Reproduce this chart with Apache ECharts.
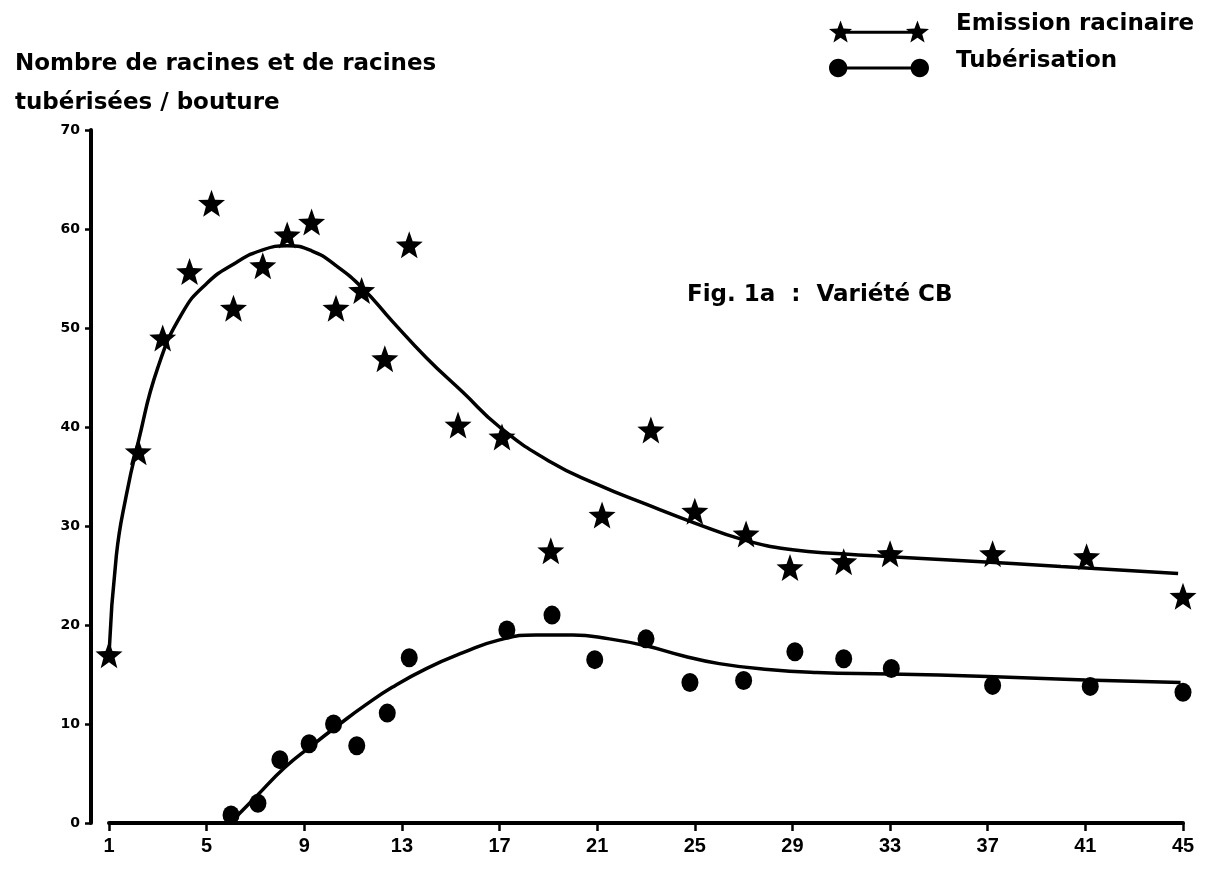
<!DOCTYPE html>
<html>
<head>
<meta charset="utf-8">
<script src="https://cdn.jsdelivr.net/npm/echarts@6/dist/echarts.min.js"></script>
<style>
html,body{margin:0;padding:0;background:#fff;}
#chart{width:1207px;height:872px;}
</style>
</head>
<body>
<div id="chart"></div>
<script>
// ---- Data ----
const xTicks = [1, 5, 9, 13, 17, 21, 25, 29, 33, 37, 41, 45];
const yTicks = [0, 10, 20, 30, 40, 50, 60, 70];

// Emission racinaire : observed points (stars)
const emissionDays   = [1, 2.2, 3.2, 4.3, 5.2, 6.1, 7.3, 8.3, 9.3, 10.3, 11.35, 12.3, 13.3, 15.3, 17.1, 19.1, 21.2, 23.2, 25.0, 27.1, 28.9, 31.1, 33.0, 37.2, 41.05, 45.0];
const emissionValues = [17.0, 37.5, 49.0, 55.7, 62.6, 52.0, 56.3, 59.4, 60.7, 52.0, 53.8, 46.9, 58.4, 40.2, 39.0, 27.5, 31.1, 39.7, 31.5, 29.2, 25.8, 26.4, 27.2, 27.2, 26.9, 22.9];

// Emission racinaire : hand-drawn fitted curve
const emissionCurveDays   = [1, 1.3, 1.7, 2.2, 3.0, 4.0, 5.0, 6.2, 7.3, 8.3, 9.3, 10.3, 11.4, 12.6, 14.0, 15.5, 17.0, 19.0, 21.0, 23.0, 25.0, 27.0, 29.0, 31.0, 33.0, 36.0, 40.0, 44.8];
const emissionCurveValues = [17.0, 27.0, 33.0, 38.5, 46.0, 51.5, 54.5, 56.6, 57.9, 58.3, 57.8, 56.3, 54.0, 50.7, 47.0, 43.5, 40.0, 36.6, 34.2, 32.2, 30.3, 28.6, 27.6, 27.2, 26.9, 26.5, 25.9, 25.2];

// Tubérisation : observed points (dots)
const tuberDays   = [6.0, 7.1, 8.0, 9.2, 10.2, 11.15, 12.4, 13.3, 17.3, 19.15, 20.9, 23.0, 24.8, 27.0, 29.1, 31.1, 33.05, 37.2, 41.2, 45.0];
const tuberValues = [0.8, 2.0, 6.4, 8.0, 10.0, 7.8, 11.1, 16.7, 19.5, 21.0, 16.5, 18.6, 14.2, 14.4, 17.3, 16.6, 15.6, 13.9, 13.8, 13.2];

// Tubérisation : hand-drawn fitted curve
const tuberCurveDays   = [6.0, 7.0, 8.2, 9.3, 10.4, 11.5, 12.6, 14.0, 15.5, 17.0, 18.5, 20.0, 21.5, 23.0, 24.5, 26.0, 28.0, 30.0, 33.0, 37.0, 41.0, 44.9];
const tuberCurveValues = [0.1, 2.6, 5.6, 7.8, 9.9, 11.9, 13.7, 15.6, 17.2, 18.5, 19.0, 19.0, 18.6, 17.9, 16.9, 16.1, 15.5, 15.2, 15.05, 14.8, 14.45, 14.2];

const yAxisTitle = 'Nombre de racines et de racines\ntubérisées / bouture';
const figLabel = 'Fig. 1a  :  Variété CB';
const seriesNames = ['Emission racinaire', 'Tubérisation'];

// ---- Build ----
const zip = (xs, ys) => xs.map((x, i) => [x, ys[i]]);

const STAR = 'path://M12 0L14.94 7.95L23.41 8.29L16.76 13.55L19.05 21.71L12 17L4.95 21.71L7.24 13.55L0.59 8.29L9.06 7.95Z';
const STAR_LEGEND = 'path://M12 0L14.94 7.95L23.41 8.29L16.76 13.55L19.05 21.71L12 17L4.95 21.71L7.24 13.55L0.59 8.29L9.06 7.95Z' +
  'M88 0L90.94 7.95L99.41 8.29L92.76 13.55L95.05 21.71L88 17L80.95 21.71L83.24 13.55L76.59 8.29L85.06 7.95Z' +
  'M12 10.2L88 10.2L88 13.2L12 13.2Z';
const DOT_LEGEND = 'path://M1 11C1 6.03 5.03 2 10 2C14.97 2 19 6.03 19 11C19 15.97 14.97 20 10 20C5.03 20 1 15.97 1 11Z' +
  'M81 11C81 6.03 85.03 2 90 2C94.97 2 99 6.03 99 11C99 15.97 94.97 20 90 20C85.03 20 81 15.97 81 11Z' +
  'M10 9.5L90 9.5L90 12.5L10 12.5Z';

const INK = '#000000';
const BOLD_FONT = 'DejaVu Sans, Verdana, sans-serif';
const chart = echarts.init(document.getElementById('chart'), null, {renderer: 'canvas'});

chart.setOption({
  backgroundColor: '#ffffff',
  animation: false,
  title: [
    {
      text: yAxisTitle,
      left: 10, top: 40,
      textStyle: {fontFamily: BOLD_FONT, fontWeight: 'bold', fontSize: 23, lineHeight: 39, color: INK}
    },
    {
      text: figLabel,
      left: 682, top: 279,
      textStyle: {fontFamily: BOLD_FONT, fontWeight: 'bold', fontSize: 23, color: INK}
    }
  ],
  legend: {
    orient: 'vertical',
    left: 824, top: 8,
    itemWidth: 100, itemHeight: 24,
    itemGap: 1,
    selectedMode: false,
    data: [
      {name: seriesNames[0], icon: STAR_LEGEND},
      {name: seriesNames[1], icon: DOT_LEGEND}
    ],
    formatter: name => '{t|' + name + '}\n{s| }',
    textStyle: {
      padding: [0, 0, 0, 22],
      rich: {
        t: {fontFamily: BOLD_FONT, fontWeight: 'bold', fontSize: 23, lineHeight: 24, color: INK},
        s: {fontSize: 10, lineHeight: 14}
      }
    },
    itemStyle: {color: INK, opacity: 1}
  },
  grid: {left: 109, right: 24, top: 130, bottom: 49},
  xAxis: {
    type: 'value',
    min: 1, max: 45,
    splitLine: {show: false},
    axisLine: {show: true, lineStyle: {color: INK, width: 4}},
    axisTick: {show: true, customValues: xTicks, length: 8, lineStyle: {color: INK, width: 2.5}},
    axisLabel: {
      customValues: xTicks, margin: 13,
      fontFamily: 'Liberation Sans Narrow, Liberation Sans, Arial, sans-serif',
      fontWeight: 'bold', fontSize: 20, color: INK
    }
  },
  yAxis: {
    type: 'value',
    min: 0, max: 70, interval: 10,
    offset: 18,
    splitLine: {show: false},
    axisLine: {show: true, lineStyle: {color: INK, width: 4}},
    axisTick: {show: true, length: 6, lineStyle: {color: INK, width: 2.5}},
    axisLabel: {
      margin: 11,
      customValues: yTicks,
      fontFamily: BOLD_FONT,
      fontWeight: 'bold', fontSize: 14, color: INK
    }
  },
  series: [
    {
      name: seriesNames[0] + ' (courbe)',
      type: 'line',
      data: zip(emissionCurveDays, emissionCurveValues),
      smooth: 0.5,
      showSymbol: false,
      lineStyle: {color: INK, width: 3.5},
      z: 2
    },
    {
      name: seriesNames[1] + ' (courbe)',
      type: 'line',
      data: zip(tuberCurveDays, tuberCurveValues),
      smooth: 0.5,
      showSymbol: false,
      lineStyle: {color: INK, width: 3.5},
      z: 2
    },
    {
      name: seriesNames[0],
      type: 'scatter',
      data: zip(emissionDays, emissionValues),
      symbol: STAR,
      symbolSize: 27,
      itemStyle: {color: INK, opacity: 1},
      clip: false,
      z: 3
    },
    {
      name: seriesNames[1],
      type: 'scatter',
      data: zip(tuberDays, tuberValues),
      symbol: 'circle',
      symbolSize: [17, 19],
      itemStyle: {color: INK, opacity: 1},
      clip: false,
      z: 3
    }
  ]
});
</script>
</body>
</html>
